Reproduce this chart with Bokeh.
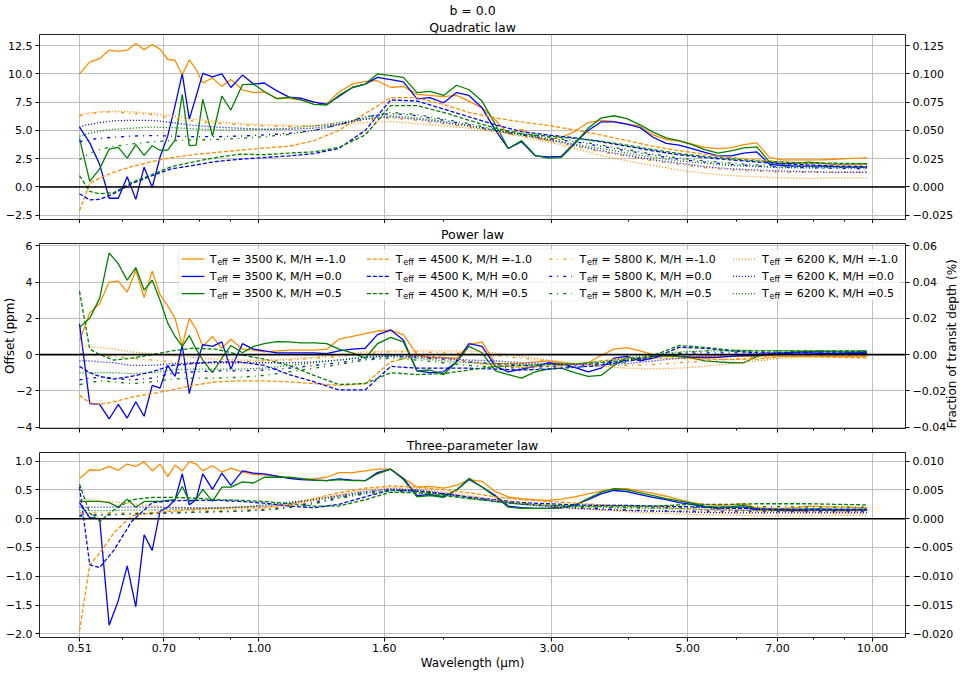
import math
from bokeh.plotting import figure
from bokeh.models import (Range1d, LinearAxis, FixedTicker, CustomJSTickFormatter,
                          Span, Title, BoxAnnotation, ColumnDataSource)
from bokeh.layouts import column
from bokeh.embed import file_html
from bokeh.resources import INLINE
from bokeh.core.properties import value

FONT = "DejaVu Sans"

# ---------------- data ----------------
wavelength = [0.51, 0.53, 0.55, 0.57, 0.59, 0.61, 0.63, 0.65, 0.67, 0.69, 0.71, 0.73, 0.75, 0.77, 0.79, 0.81,
              0.84, 0.87, 0.90, 0.94, 0.98,
              1.02, 1.07, 1.12, 1.17, 1.23, 1.29, 1.35, 1.42, 1.49, 1.56,
              1.64, 1.72, 1.81, 1.90, 2.00, 2.10, 2.20, 2.31, 2.43, 2.55,
              2.68, 2.82, 2.96, 3.11, 3.27, 3.44, 3.61, 3.79, 3.98, 4.18,
              4.39, 4.61, 4.84, 5.08, 5.33, 5.60, 5.88, 6.17, 6.48, 6.80,
              7.14, 7.50, 7.87, 8.26, 8.67, 9.10, 9.55, 9.80]

wavelength_smooth = [0.51, 0.53, 0.55, 0.58, 0.62, 0.67, 0.72, 0.78, 0.85, 0.93,
                     1.02, 1.12, 1.23, 1.35, 1.49, 1.64, 1.81, 2.0, 2.2, 2.43,
                     2.68, 2.96, 3.27, 3.61, 3.98, 4.39, 4.84, 5.33, 5.88, 6.48,
                     7.14, 7.87, 8.67, 9.8]

temperatures = [3500, 4500, 5800, 6200]
metallicities = ["-1.0", "0.0", "0.5"]

# Quadratic law (ppm)
quad_3500_m10 = [10.0, 11.05, 11.35, 12.1, 12.0, 12.1, 12.7, 12.15, 12.6, 12.2, 11.3, 11.2, 9.9, 11.25, 10.4, 9.2,
                 9.65, 8.9, 9.5, 8.6, 8.35,
                 8.4, 7.85, 7.85, 7.7, 7.5, 7.35, 8.4, 9.1, 9.35, 9.4,
                 8.8, 8.9, 8.2, 8.1, 8.0, 8.1, 7.6, 7.0, 5.9, 4.7,
                 5.1, 4.4, 4.15, 4.4, 4.9, 5.7, 5.9, 5.8, 5.55, 5.4,
                 4.6, 4.2, 4.05, 3.8, 3.5, 3.4, 3.45, 3.75, 3.9, 2.6,
                 2.4, 2.4, 2.4, 2.4, 2.45, 2.5, 2.55, 2.6]
quad_3500_p00 = [5.3, 3.9, 2.0, -1.0, -1.0, 0.9, -1.1, 1.75, -0.05, 2.65, 4.5, 7.2, 10.0, 6.0, 8.0, 10.05,
                 9.75, 10.0, 8.8, 9.9, 9.1,
                 9.2, 8.5, 7.95, 7.85, 7.5, 7.3, 8.0, 8.8, 9.1, 9.7,
                 9.5, 9.3, 7.8, 7.9, 7.45, 8.35, 8.1, 7.0, 5.0, 3.4,
                 4.0, 2.75, 2.65, 2.7, 3.9, 5.0, 5.75, 5.75, 5.55, 5.25,
                 4.4, 3.85, 3.7, 3.4, 3.05, 2.75, 2.75, 3.0, 3.1, 2.0,
                 1.9, 1.85, 1.85, 1.85, 1.8, 1.75, 1.75, 1.75]
quad_3500_p05 = [4.3, 0.5, 1.6, 3.35, 3.5, 2.55, 3.75, 2.8, 3.65, 3.25, 3.25, 4.15, 8.2, 3.65, 3.7, 7.75,
                 4.5, 8.05, 6.8, 9.05, 9.1,
                 8.45, 7.8, 7.95, 7.7, 7.3, 7.25, 8.1, 8.8, 9.1, 10.0,
                 9.85, 9.7, 8.35, 8.45, 8.1, 9.0, 8.6, 7.6, 5.5, 3.4,
                 4.1, 2.8, 2.55, 2.6, 3.8, 5.2, 6.1, 6.3, 6.05, 5.5,
                 4.85, 4.35, 4.1, 3.75, 3.3, 3.0, 3.2, 3.45, 3.55, 2.2,
                 2.05, 2.1, 2.2, 2.1, 2.0, 2.0, 2.05, 2.05]
quad_4500_m10 = [-2.1, 0.3, 0.8, 1.3, 1.8, 2.25, 2.6, 2.85, 3.05, 3.25, 3.45, 3.6, 4.1, 5.0, 6.5, 7.9, 7.9, 7.3,
                 6.6, 6.1, 5.75, 5.45, 5.05, 4.6, 4.1, 3.6, 3.2, 2.9, 2.6, 2.4, 2.2, 2.1, 2.0, 1.95]
quad_4500_p00 = [-0.6, -1.15, -1.1, -0.6, 0.3, 1.0, 1.6, 1.9, 2.25, 2.45, 2.6, 2.75, 2.95, 3.4, 5.0, 7.7, 7.6, 6.9,
                 6.2, 5.5, 4.9, 4.6, 4.35, 4.0, 3.6, 3.2, 2.85, 2.6, 2.4, 2.2, 2.05, 1.95, 1.85, 1.8]
quad_4500_p05 = [1.0, -0.4, -0.6, -0.5, 0.4, 1.1, 1.8, 2.2, 2.6, 2.9, 2.85, 3.0, 3.1, 3.5, 4.6, 7.2, 7.2, 6.6,
                 5.9, 5.2, 4.7, 4.5, 4.3, 4.05, 3.7, 3.3, 2.95, 2.7, 2.5, 2.3, 2.2, 2.1, 2.1, 2.05]
quad_5800_m10 = [6.3, 6.5, 6.6, 6.65, 6.5, 6.4, 6.1, 5.85, 5.65, 5.5, 5.4, 5.35, 5.4, 5.6, 5.95, 6.1, 5.9, 5.6,
                 5.3, 4.9, 4.5, 4.1, 3.6, 3.1, 2.7, 2.3, 2.0, 1.7, 1.5, 1.4, 1.3, 1.3, 1.3, 1.3]
quad_5800_p00 = [4.0, 4.2, 4.3, 4.4, 4.5, 4.55, 4.5, 4.45, 4.45, 4.5, 4.6, 4.75, 5.0, 5.5, 6.2, 6.5, 6.3, 5.9,
                 5.5, 5.0, 4.6, 4.3, 4.0, 3.6, 3.2, 2.8, 2.45, 2.2, 2.0, 1.85, 1.75, 1.7, 1.65, 1.6]
quad_5800_p05 = [2.4, 3.0, 3.3, 3.6, 3.8, 4.0, 4.1, 4.15, 4.2, 4.3, 4.45, 4.65, 5.0, 5.5, 6.2, 6.6, 6.4, 6.0,
                 5.6, 5.1, 4.7, 4.4, 4.1, 3.7, 3.3, 2.9, 2.55, 2.3, 2.1, 1.95, 1.85, 1.8, 1.75, 1.7]
quad_6200_m10 = [6.4, 6.55, 6.65, 6.7, 6.65, 6.5, 6.3, 6.0, 5.8, 5.6, 5.5, 5.45, 5.4, 5.5, 5.7, 5.8, 5.6, 5.4,
                 5.2, 4.9, 4.5, 4.0, 3.4, 2.8, 2.3, 1.9, 1.5, 1.2, 1.0, 0.9, 0.8, 0.75, 0.8, 0.8]
quad_6200_p00 = [5.3, 5.55, 5.7, 5.85, 5.9, 5.9, 5.7, 5.45, 5.3, 5.2, 5.1, 5.1, 5.2, 5.55, 6.0, 6.2, 6.0, 5.7,
                 5.4, 5.0, 4.6, 4.2, 3.7, 3.2, 2.8, 2.4, 2.1, 1.8, 1.6, 1.5, 1.4, 1.35, 1.3, 1.3]
quad_6200_p05 = [4.5, 4.75, 4.95, 5.1, 5.2, 5.3, 5.25, 5.15, 5.05, 5.05, 5.1, 5.2, 5.4, 5.7, 6.05, 6.3, 6.1, 5.8,
                 5.4, 5.0, 4.6, 4.2, 3.8, 3.4, 3.0, 2.6, 2.3, 2.1, 1.9, 1.8, 1.7, 1.7, 1.7, 1.7]

# Power law (ppm)
power_3500_m10 = [0.75, 2.3, 2.8, 4.0, 4.05, 3.45, 4.65, 3.15, 4.6, 3.3, 2.7, 2.0, 0.5, 2.0, 1.4, 0.45,
                  1.0, 0.35, 0.85, 0.3, 0.25,
                  0.15, 0.2, 0.25, 0.25, 0.25, 0.3, 0.85, 1.0, 1.15, 1.3,
                  1.35, 1.1, 0.0, -0.2, -0.15, -0.2, 0.55, 0.7, -0.5, -0.5,
                  -0.5, -0.4, -0.35, -0.45, -0.55, -0.45, -0.05, 0.3, 0.38, 0.2,
                  0.0, -0.1, -0.1, -0.1, -0.1, -0.1, -0.1, -0.1, -0.1, -0.05,
                  -0.1, -0.1, -0.1, -0.1, -0.1, -0.1, -0.1, -0.1]
power_3500_p00 = [1.7, -2.7, -2.75, -3.55, -2.75, -3.5, -2.6, -3.4, -1.7, -1.85, -0.6, -1.2, 0.5, -2.15, -0.6, 0.55,
                  0.45, 0.7, -0.8, 0.6, 0.3,
                  0.2, 0.1, 0.1, 0.1, 0.1, 0.05, 0.2, 0.3, 0.35, 1.1,
                  1.35, 0.8, -0.9, -1.0, -0.95, -0.4, 0.6, 0.45, -0.65, -0.95,
                  -0.8, -0.65, -0.45, -0.55, -0.7, -0.95, -0.75, -0.2, -0.1, -0.35,
                  -0.2, 0.0, -0.1, -0.15, -0.18, -0.15, -0.1, -0.05, -0.05, 0.0,
                  0.05, 0.1, 0.1, 0.05, 0.05, 0.05, 0.05, 0.05]
power_3500_p05 = [1.5, 2.0, 3.1, 5.6, 5.0, 4.1, 4.8, 3.55, 4.1, 3.0, 1.75, 1.0, 0.45, 1.05, 0.3, -0.3,
                  -1.0, -0.2, 0.5, 0.1, 0.45,
                  0.6, 0.72, 0.7, 0.65, 0.65, 0.6, 0.3, 0.1, -0.2, 0.6,
                  0.95, 0.7, -0.9, -0.85, -1.1, -0.4, 0.45, 0.1, -0.9, -1.1,
                  -1.3, -0.95, -0.8, -0.75, -1.0, -1.2, -1.15, -0.6, -0.15, -0.25,
                  -0.1, -0.05, -0.1, -0.2, -0.35, -0.4, -0.45, -0.45, -0.1, 0.05,
                  0.1, 0.15, 0.18, 0.15, 0.15, 0.13, 0.13, 0.13]
power_4500_m10 = [-2.25, -2.65, -2.75, -2.6, -2.35, -2.15, -1.95, -1.7, -1.5, -1.45, -1.45, -1.5, -1.6, -1.7,
                  -1.6, -0.4, -0.05, -0.15, -0.4, -0.6, -0.7, -0.65, -0.55, -0.35, -0.2, -0.2, -0.2, -0.25,
                  -0.27, -0.25, -0.1, -0.12, -0.15, -0.18]
power_4500_p00 = [-0.65, -1.0, -1.2, -1.35, -1.2, -0.95, -0.6, -0.5, -0.4, -0.4, -0.6, -1.1, -1.5, -1.95,
                  -1.95, -0.65, -0.75, -0.75, -0.75, -0.8, -0.85, -0.8, -0.7, -0.6, -0.35, -0.2, 0.4, 0.35,
                  0.2, 0.1, 0.1, 0.15, 0.15, 0.15]
power_4500_p05 = [3.5, 0.3, 0.0, -0.3, -0.2, 0.0, 0.2, 0.35, 0.3, 0.0, -0.25, -0.6, -1.15, -1.65, -1.6, -1.0,
                  -1.1, -1.05, -0.85, -0.65, -0.6, -0.55, -0.5, -0.45, -0.3, -0.05, 0.5, 0.4, 0.25, 0.2,
                  0.2, 0.2, 0.2, 0.2]
power_5800_m10 = [0.05, 0.0, -0.05, -0.1, -0.2, -0.3, -0.4, -0.45, -0.45, -0.4, -0.35, -0.3, -0.2, -0.1,
                  0.05, 0.15, 0.15, 0.1, 0.05, -0.05, -0.2, -0.35, -0.5, -0.6, -0.6, -0.55, -0.45, -0.35,
                  -0.25, -0.15, -0.1, -0.05, -0.05, -0.05]
power_5800_p00 = [-1.4, -1.3, -1.25, -1.3, -1.4, -1.3, -1.05, -0.95, -0.9, -0.9, -0.85, -0.75, -0.6, -0.45,
                  -0.25, -0.1, -0.15, -0.25, -0.4, -0.5, -0.6, -0.65, -0.6, -0.5, -0.3, -0.1, 0.05, 0.1,
                  0.1, 0.1, 0.1, 0.1, 0.1, 0.1]
power_5800_p05 = [-1.65, -1.55, -1.45, -1.5, -1.6, -1.5, -1.35, -1.3, -1.3, -1.25, -1.15, -0.95, -0.75,
                  -0.55, -0.3, -0.2, -0.3, -0.45, -0.6, -0.7, -0.75, -0.75, -0.7, -0.6, -0.4, -0.1, 0.1,
                  0.2, 0.2, 0.2, 0.2, 0.2, 0.2, 0.2]
power_6200_m10 = [0.5, 0.45, 0.4, 0.3, 0.15, 0.05, -0.05, -0.15, -0.25, -0.3, -0.3, -0.25, -0.15, 0.0, 0.15,
                  0.2, 0.2, 0.2, 0.2, 0.1, -0.1, -0.3, -0.5, -0.65, -0.75, -0.78, -0.75, -0.65, -0.5,
                  -0.35, -0.2, -0.1, -0.1, -0.1]
power_6200_p00 = [-0.35, -0.35, -0.4, -0.45, -0.6, -0.6, -0.5, -0.45, -0.45, -0.45, -0.45, -0.45, -0.4,
                  -0.3, -0.15, -0.05, -0.1, -0.2, -0.3, -0.35, -0.45, -0.5, -0.55, -0.55, -0.5, -0.35,
                  -0.2, -0.1, 0.0, 0.05, 0.05, 0.05, 0.05, 0.05]
power_6200_p05 = [-1.0, -1.0, -1.0, -1.0, -1.05, -1.0, -0.85, -0.8, -0.8, -0.8, -0.75, -0.6, -0.45, -0.3,
                  -0.15, -0.1, -0.2, -0.35, -0.45, -0.5, -0.55, -0.55, -0.5, -0.4, -0.2, 0.0, 0.15, 0.2,
                  0.2, 0.2, 0.2, 0.2, 0.2, 0.2]

# Three-parameter law (ppm)
three_3500_m10 = [0.7, 0.85, 0.84, 0.91, 0.84, 0.95, 0.91, 0.99, 0.83, 0.95, 0.73, 0.93, 0.83, 0.99, 0.95, 0.83,
                  0.92, 0.81, 0.88, 0.81, 0.77,
                  0.76, 0.74, 0.7, 0.69, 0.69, 0.72, 0.8, 0.8, 0.83, 0.86,
                  0.86, 0.7, 0.55, 0.56, 0.53, 0.58, 0.68, 0.65, 0.47, 0.38,
                  0.35, 0.33, 0.32, 0.34, 0.38, 0.43, 0.48, 0.52, 0.52, 0.48,
                  0.44, 0.39, 0.33, 0.28, 0.25, 0.23, 0.24, 0.26, 0.19, 0.18,
                  0.18, 0.19, 0.22, 0.21, 0.2, 0.2, 0.19, 0.19]
three_3500_p00 = [0.28, 0.02, 0.0, -1.85, -1.42, -0.82, -1.53, -0.28, -0.55, 0.13, 0.2, 0.33, 0.78, 0.24, 0.33, 0.78,
                  0.51, 0.79, 0.58, 0.83, 0.79,
                  0.78, 0.74, 0.7, 0.68, 0.67, 0.66, 0.69, 0.67, 0.66, 0.8,
                  0.86, 0.7, 0.4, 0.42, 0.38, 0.5, 0.68, 0.55, 0.4, 0.22,
                  0.19, 0.18, 0.18, 0.19, 0.24, 0.33, 0.43, 0.49, 0.47, 0.42,
                  0.37, 0.33, 0.28, 0.25, 0.2, 0.18, 0.2, 0.2, 0.16, 0.15,
                  0.14, 0.14, 0.15, 0.15, 0.15, 0.15, 0.15, 0.15]
three_3500_p05 = [0.3, 0.3, 0.3, 0.28, 0.2, 0.34, 0.2, 0.3, 0.3, 0.3, 0.32, 0.33, 0.56, 0.3, 0.33, 0.51,
                  0.3, 0.55, 0.55, 0.64, 0.62,
                  0.72, 0.72, 0.72, 0.7, 0.67, 0.66, 0.68, 0.66, 0.66, 0.78,
                  0.86, 0.68, 0.38, 0.4, 0.37, 0.5, 0.7, 0.55, 0.38, 0.2,
                  0.18, 0.18, 0.18, 0.19, 0.23, 0.35, 0.46, 0.52, 0.5, 0.45,
                  0.4, 0.35, 0.31, 0.27, 0.22, 0.2, 0.21, 0.23, 0.17, 0.16,
                  0.16, 0.16, 0.17, 0.17, 0.16, 0.16, 0.16, 0.16]
three_4500_m10 = [-1.95, -0.8, -0.6, -0.25, 0.05, 0.1, 0.13, 0.16, 0.18, 0.2, 0.2, 0.25, 0.35, 0.45, 0.53,
                  0.57, 0.55, 0.5, 0.45, 0.38, 0.33, 0.3, 0.27, 0.24, 0.22, 0.2, 0.18, 0.16, 0.15, 0.14,
                  0.13, 0.12, 0.12, 0.12]
three_4500_p00 = [0.55, -0.8, -0.85, -0.55, -0.05, 0.28, 0.31, 0.32, 0.32, 0.3, 0.27, 0.22, 0.19, 0.25, 0.38,
                  0.5, 0.48, 0.43, 0.38, 0.33, 0.28, 0.26, 0.24, 0.23, 0.23, 0.22, 0.21, 0.2, 0.18, 0.17,
                  0.16, 0.16, 0.16, 0.16]
three_4500_p05 = [0.6, 0.1, -0.05, 0.15, 0.33, 0.37, 0.37, 0.36, 0.33, 0.32, 0.3, 0.26, 0.22, 0.22, 0.33,
                  0.46, 0.45, 0.4, 0.35, 0.3, 0.25, 0.23, 0.22, 0.22, 0.22, 0.22, 0.24, 0.25, 0.25, 0.26,
                  0.26, 0.26, 0.25, 0.24]
three_5800_m10 = [0.1, 0.1, 0.1, 0.1, 0.1, 0.11, 0.12, 0.13, 0.14, 0.15, 0.17, 0.22, 0.3, 0.4, 0.48, 0.52,
                  0.5, 0.44, 0.38, 0.32, 0.27, 0.23, 0.2, 0.17, 0.15, 0.13, 0.12, 0.11, 0.1, 0.1, 0.1, 0.1,
                  0.1, 0.1]
three_5800_p00 = [0.06, 0.06, 0.07, 0.07, 0.08, 0.09, 0.1, 0.11, 0.12, 0.13, 0.15, 0.2, 0.28, 0.37, 0.45,
                  0.5, 0.48, 0.43, 0.37, 0.31, 0.26, 0.22, 0.19, 0.17, 0.15, 0.14, 0.13, 0.13, 0.13, 0.13,
                  0.13, 0.13, 0.13, 0.13]
three_5800_p05 = [0.04, 0.05, 0.06, 0.07, 0.08, 0.09, 0.1, 0.11, 0.12, 0.13, 0.15, 0.19, 0.26, 0.35, 0.43,
                  0.48, 0.46, 0.41, 0.35, 0.3, 0.26, 0.23, 0.21, 0.2, 0.19, 0.19, 0.19, 0.2, 0.2, 0.21,
                  0.21, 0.2, 0.2, 0.2]
three_6200_m10 = [0.33, 0.32, 0.31, 0.29, 0.26, 0.22, 0.2, 0.18, 0.17, 0.17, 0.18, 0.24, 0.32, 0.42, 0.5,
                  0.55, 0.52, 0.46, 0.4, 0.33, 0.27, 0.22, 0.18, 0.15, 0.12, 0.1, 0.08, 0.07, 0.06, 0.05,
                  0.05, 0.05, 0.06, 0.06]
three_6200_p00 = [0.2, 0.2, 0.2, 0.2, 0.2, 0.2, 0.19, 0.19, 0.19, 0.2, 0.22, 0.27, 0.33, 0.4, 0.47, 0.52,
                  0.5, 0.44, 0.37, 0.3, 0.25, 0.21, 0.18, 0.16, 0.14, 0.13, 0.12, 0.11, 0.1, 0.1, 0.1, 0.1,
                  0.1, 0.1]
three_6200_p05 = [0.14, 0.14, 0.14, 0.14, 0.15, 0.15, 0.16, 0.17, 0.18, 0.2, 0.24, 0.29, 0.33, 0.38, 0.44,
                  0.49, 0.47, 0.42, 0.36, 0.3, 0.26, 0.23, 0.21, 0.2, 0.19, 0.18, 0.17, 0.16, 0.15, 0.14,
                  0.14, 0.14, 0.14, 0.14]

quad_series = {
    (3500, "-1.0"): quad_3500_m10, (3500, "0.0"): quad_3500_p00, (3500, "0.5"): quad_3500_p05,
    (4500, "-1.0"): quad_4500_m10, (4500, "0.0"): quad_4500_p00, (4500, "0.5"): quad_4500_p05,
    (5800, "-1.0"): quad_5800_m10, (5800, "0.0"): quad_5800_p00, (5800, "0.5"): quad_5800_p05,
    (6200, "-1.0"): quad_6200_m10, (6200, "0.0"): quad_6200_p00, (6200, "0.5"): quad_6200_p05,
}
power_series = {
    (3500, "-1.0"): power_3500_m10, (3500, "0.0"): power_3500_p00, (3500, "0.5"): power_3500_p05,
    (4500, "-1.0"): power_4500_m10, (4500, "0.0"): power_4500_p00, (4500, "0.5"): power_4500_p05,
    (5800, "-1.0"): power_5800_m10, (5800, "0.0"): power_5800_p00, (5800, "0.5"): power_5800_p05,
    (6200, "-1.0"): power_6200_m10, (6200, "0.0"): power_6200_p00, (6200, "0.5"): power_6200_p05,
}
three_series = {
    (3500, "-1.0"): three_3500_m10, (3500, "0.0"): three_3500_p00, (3500, "0.5"): three_3500_p05,
    (4500, "-1.0"): three_4500_m10, (4500, "0.0"): three_4500_p00, (4500, "0.5"): three_4500_p05,
    (5800, "-1.0"): three_5800_m10, (5800, "0.0"): three_5800_p00, (5800, "0.5"): three_5800_p05,
    (6200, "-1.0"): three_6200_m10, (6200, "0.0"): three_6200_p00, (6200, "0.5"): three_6200_p05,
}

x_major_ticks = [0.51, 0.70, 1.00, 1.60, 3.00, 5.00, 7.00, 10.00]
x_minor_ticks = [0.6, 0.8, 0.9, 2, 4, 6, 8, 9]

# ---------------- style ----------------
COLORS = {"-1.0": "#ff8c00", "0.0": "#0000ff", "0.5": "#008000"}
DASHES = {3500: "solid", 4500: "4 2", 5800: "3 5 1 5", 6200: "1 2"}
X_START, X_END = 0.4389, 11.32
FRAME_W, FRAME_H = 866, 185
GRID = "#b0b0b0"
TITLE_SIZE = "12.5px"


def ytick_formatter(d):
    return CustomJSTickFormatter(code="return tick.toFixed(%d).replace('-', '\\u2212');" % d)


def style_axis(ax):
    ax.major_label_text_font = FONT
    ax.major_label_text_font_size = "11px"
    ax.major_label_text_color = "black"
    ax.axis_line_color = None
    ax.major_tick_line_color = "black"
    ax.major_tick_out = 4
    ax.major_tick_in = 0
    ax.minor_tick_line_color = "black"
    ax.minor_tick_out = 2
    ax.minor_tick_in = 0
    ax.major_label_standoff = 3
    ax.axis_label_text_font = FONT
    ax.axis_label_text_font_size = "12px"
    ax.axis_label_text_font_style = "normal"
    ax.axis_label_text_color = "black"
    ax.axis_label_standoff = 3


def style_title(t, standoff):
    t.align = "center"
    t.text_font = FONT
    t.text_font_size = TITLE_SIZE
    t.text_font_style = "normal"
    t.text_color = "black"
    t.standoff = standoff


def make_panel(title, yr, yticks, yd, rticks, rd, series, show_xlabels, bottom=0, title_standoff=0):
    p = figure(frame_width=FRAME_W, frame_height=FRAME_H, x_axis_type="log",
               x_range=Range1d(X_START, X_END), y_range=Range1d(*yr),
               output_backend="svg", toolbar_location=None,
               min_border_left=34, min_border_right=59, min_border_top=0, min_border_bottom=bottom,
               background_fill_color="white", border_fill_color="white")
    p.title.text = title
    style_title(p.title, title_standoff)
    p.outline_line_color = "#222222"
    p.outline_line_width = 1

    xt = FixedTicker(ticks=x_major_ticks, minor_ticks=x_minor_ticks)
    p.xaxis.ticker = xt
    p.xgrid.ticker = xt
    p.xaxis.formatter = CustomJSTickFormatter(code="return tick.toFixed(2);")
    style_axis(p.xaxis[0])
    if not show_xlabels:
        p.xaxis.major_label_text_font_size = "0px"
        p.xaxis.major_label_text_color = None
        p.xaxis.major_label_standoff = 0

    lax = p.left[0]
    yt = FixedTicker(ticks=yticks, minor_ticks=[])
    lax.ticker = yt
    p.ygrid.ticker = yt
    lax.formatter = ytick_formatter(yd)
    style_axis(lax)
    lax.minor_tick_line_color = None

    p.extra_y_ranges = {"frac": Range1d(yr[0] * 0.01, yr[1] * 0.01)}
    rax = LinearAxis(y_range_name="frac", ticker=FixedTicker(ticks=rticks, minor_ticks=[]),
                     formatter=ytick_formatter(rd))
    style_axis(rax)
    rax.minor_tick_line_color = None
    p.add_layout(rax, "right")

    for g in (p.xgrid, p.ygrid):
        g.grid_line_color = GRID
        g.grid_line_width = 0.8

    for t in temperatures:
        xs = wavelength if t == 3500 else wavelength_smooth
        for m in metallicities:
            p.line(xs, series[(t, m)], line_color=COLORS[m], line_width=1.3, line_dash=DASHES[t])

    p.add_layout(Span(location=0, dimension="width", line_color="black", line_width=1.6))
    return p, lax, rax


p1, l1, r1 = make_panel("b = 0.0", (-2.88, 13.49), [-2.5, 0, 2.5, 5, 7.5, 10, 12.5], 1,
                        [-0.025, 0, 0.025, 0.05, 0.075, 0.1, 0.125], 3, quad_series, False)
sub = Title(text="Quadratic law")
style_title(sub, 0)
p1.add_layout(sub, "above")

Y2 = (-4.075, 6.125)
p2, l2, r2 = make_panel("Power law", Y2, [-4, -2, 0, 2, 4, 6], 0,
                        [-0.04, -0.02, 0, 0.02, 0.04, 0.06], 2, power_series, False,
                        bottom=7, title_standoff=3)
l2.axis_label = "Offset (ppm)"
l2.axis_label_standoff = -4
r2.axis_label = "Fraction of transit depth (%)"
r2.axis_label_standoff = 3
r2.axis_label_orientation = math.pi / 2
if "axis_label_align" in LinearAxis.properties():
    r2.axis_label_align = "start"

p3, l3, r3 = make_panel("Three-parameter law", (-2.064, 1.15), [-2.0, -1.5, -1.0, -0.5, 0.0, 0.5, 1.0], 1,
                        [-0.02, -0.015, -0.01, -0.005, 0, 0.005, 0.01], 3, three_series, True,
                        title_standoff=0)
p3.xaxis.axis_label = "Wavelength (μm)"
p3.xaxis.major_label_standoff = 2
p3.xaxis.axis_label_standoff = 1

# ---------------- legend (panel 2) ----------------
LX0, LX1 = math.log10(X_START), math.log10(X_END)


def fx(f):
    return 10 ** (LX0 + f * (LX1 - LX0))


def fy(f):
    return Y2[1] - f * (Y2[1] - Y2[0])


p2.add_layout(BoxAnnotation(left=fx(0.1605), right=fx(0.9942), top=fy(0.0305), bottom=fy(0.31),
                            fill_color="white", fill_alpha=0.8, line_color="#cccccc",
                            line_width=1, border_radius=3))
row_f = [0.084, 0.178, 0.271]
handle_f = [0.1642, 0.378, 0.5886, 0.8007]
text_f = [0.1965, 0.4115, 0.6237, 0.8343]
tx, ty, tmain = [], [], []
for ci, t in enumerate(temperatures):
    src = ColumnDataSource(dict(x0=[fx(handle_f[ci])] * 3, x1=[fx(handle_f[ci] + 0.0262)] * 3,
                                y=[fy(f) for f in row_f], c=[COLORS[m] for m in metallicities]))
    p2.segment(x0="x0", y0="y", x1="x1", y1="y", line_color="c", line_width=1.3,
               line_dash=DASHES[t], source=src, level="overlay")
    for ri, m in enumerate(metallicities):
        tx.append(fx(text_f[ci]))
        ty.append(fy(row_f[ri]))
        tmain.append("= %d K, M/H =%s" % (t, m))

p2.text(x=tx, y=ty, text=["T"] * len(tx), text_font=value(FONT), text_font_size="11px",
        text_baseline="middle", text_align="left", text_color="black", level="overlay")
p2.text(x=tx, y=ty, text=["eff"] * len(tx), text_font=value(FONT), text_font_size="8px",
        text_baseline="middle", text_align="left", text_color="black", x_offset=7.5, y_offset=3,
        level="overlay")
p2.text(x=tx, y=ty, text=tmain, text_font=value(FONT), text_font_size="11px",
        text_baseline="middle", text_align="left", text_color="black", x_offset=22,
        level="overlay")

layout = column(p1, p2, p3)
open("out.html", "w").write(file_html(layout, INLINE))
